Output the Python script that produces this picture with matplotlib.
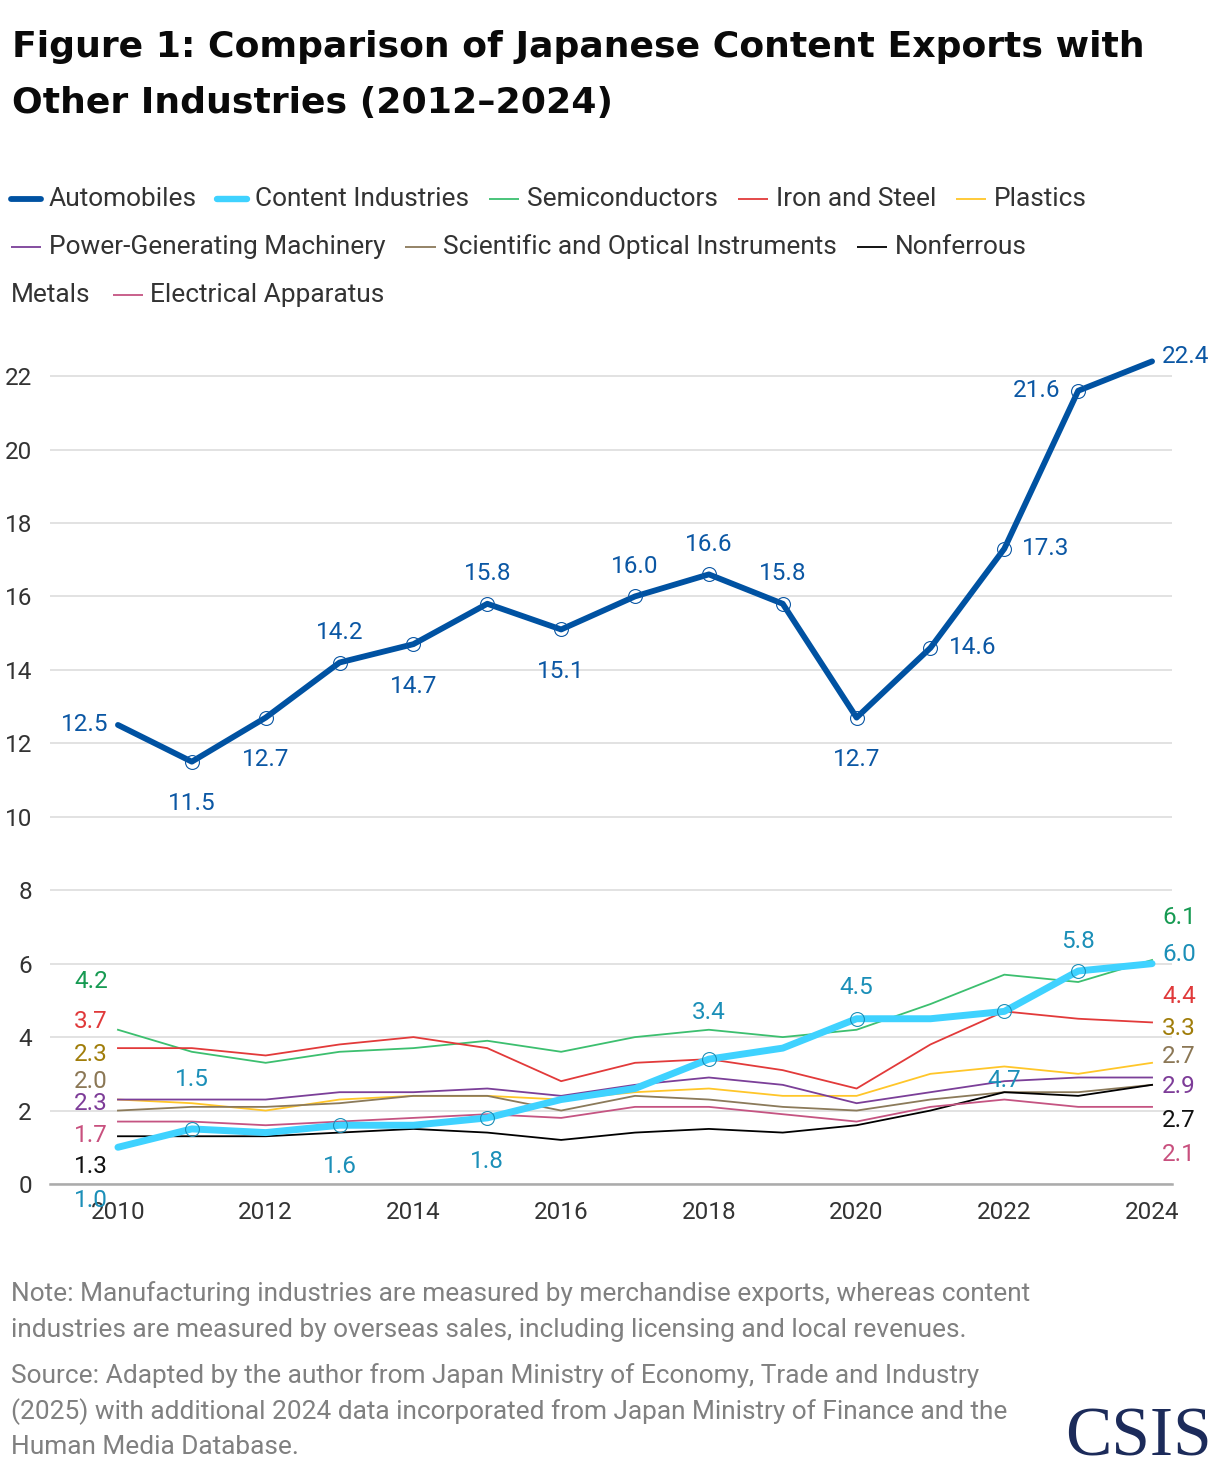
import matplotlib
matplotlib.use("Agg")
import matplotlib.pyplot as plt
from matplotlib.lines import Line2D

plt.rcParams["font.family"] = ["Roboto", "DejaVu Sans"]

years = list(range(2010, 2025))

automobiles = [12.5, 11.5, 12.7, 14.2, 14.7, 15.8, 15.1, 16.0, 16.6, 15.8, 12.7, 14.6, 17.3, 21.6, 22.4]
content = [1.0, 1.5, 1.4, 1.6, 1.6, 1.8, 2.3, 2.6, 3.4, 3.7, 4.5, 4.5, 4.7, 5.8, 6.0]
semiconductors = [4.2, 3.6, 3.3, 3.6, 3.7, 3.9, 3.6, 4.0, 4.2, 4.0, 4.2, 4.9, 5.7, 5.5, 6.1]
iron_steel = [3.7, 3.7, 3.5, 3.8, 4.0, 3.7, 2.8, 3.3, 3.4, 3.1, 2.6, 3.8, 4.7, 4.5, 4.4]
plastics = [2.3, 2.2, 2.0, 2.3, 2.4, 2.4, 2.3, 2.5, 2.6, 2.4, 2.4, 3.0, 3.2, 3.0, 3.3]
power_machinery = [2.3, 2.3, 2.3, 2.5, 2.5, 2.6, 2.4, 2.7, 2.9, 2.7, 2.2, 2.5, 2.8, 2.9, 2.9]
scientific = [2.0, 2.1, 2.1, 2.2, 2.4, 2.4, 2.0, 2.4, 2.3, 2.1, 2.0, 2.3, 2.5, 2.5, 2.7]
nonferrous = [1.3, 1.3, 1.3, 1.4, 1.5, 1.4, 1.2, 1.4, 1.5, 1.4, 1.6, 2.0, 2.5, 2.4, 2.7]
electrical = [1.7, 1.7, 1.6, 1.7, 1.8, 1.9, 1.8, 2.1, 2.1, 1.9, 1.7, 2.1, 2.3, 2.1, 2.1]

W, H = 1220, 1472
fig = plt.figure(figsize=(W / 100, H / 100), dpi=100)
ax = fig.add_axes([50 / W, 1 - 1184 / H, (1172 - 50) / W, (1184 - 332) / H])

# name, values, line colour, label colour, line width, zorder
series = [
    ("Semiconductors", semiconductors, "#3cbf6f", "#169a52", 1.3, 3),
    ("Iron and Steel", iron_steel, "#e23a3a", "#e0393a", 1.3, 3),
    ("Plastics", plastics, "#ffc629", "#a07d0a", 1.3, 3),
    ("Power-Generating Machinery", power_machinery, "#7b3f98", "#7d3c98", 1.3, 3),
    ("Scientific and Optical Instruments", scientific, "#8b7a5a", "#8b7755", 1.3, 3),
    ("Nonferrous Metals", nonferrous, "#000000", "#111111", 1.3, 3),
    ("Electrical Apparatus", electrical, "#c55482", "#c8507e", 1.3, 3),
]
auto_col, auto_lab = "#0052a2", "#0b57a4"
cont_col, cont_lab = "#3fd2ff", "#1b8fb8"

ax.plot(years, automobiles, color=auto_col, lw=4.2, zorder=6, solid_capstyle="round")
ax.plot(years, content, color=cont_col, lw=5.0, zorder=5, solid_capstyle="round")
for name, vals, col, lab, lw, z in series:
    ax.plot(years, vals, color=col, lw=lw, zorder=z)

FS = 17.5

# automobile labels
auto_place = ["L0", "B", "B", "A", "B", "A", "B", "A", "A", "A", "B", "R", "R", "L", "R0"]
place_off = {"L0": (-10, 0, "right"), "L": (-18, 0, "right"), "R": (18, 0, "left"),
             "R0": (10, 5, "left"), "A": (0, 30, "center"), "B": (0, -42, "center")}
for i, (yr, v) in enumerate(zip(years, automobiles)):
    dx, dy, ha = place_off[auto_place[i]]
    ax.annotate(f"{v:.1f}", (yr, v), xytext=(dx, dy), textcoords="offset pixels",
                ha=ha, va="center", fontsize=FS, color=auto_lab, zorder=8)
    if 0 < i < len(years) - 1:
        ax.plot(yr, v, "o", mfc="none", mec=auto_lab, ms=10, mew=0.8, zorder=7)

# content industry labels (middle points)
content_dy = {2011: 49, 2013: -41, 2015: -44, 2018: 47, 2020: 31, 2022: -69, 2023: 30}
for yr, v in zip(years, content):
    if yr in content_dy:
        ax.annotate(f"{v:.1f}", (yr, v), xytext=(0, content_dy[yr]), textcoords="offset pixels",
                    ha="center", va="center", fontsize=FS, color=cont_lab, zorder=8)
        ax.plot(yr, v, "o", mfc="none", mec=cont_lab, ms=10, mew=0.8, zorder=7)

# end labels for the smaller series
left_dy = {"Semiconductors": 48, "Iron and Steel": 27, "Plastics": 45,
           "Scientific and Optical Instruments": 29, "Power-Generating Machinery": -4,
           "Electrical Apparatus": -14, "Nonferrous Metals": -30, "Content Industries": -53}
right_dy = {"Semiconductors": 42, "Content Industries": 9, "Iron and Steel": 26, "Plastics": 34,
            "Scientific and Optical Instruments": 28, "Power-Generating Machinery": -9,
            "Nonferrous Metals": -36, "Electrical Apparatus": -48}
end_series = [(n, v, lab) for n, v, c, lab, lw, z in series] + [("Content Industries", content, cont_lab)]
for name, vals, lab in end_series:
    ax.annotate(f"{vals[0]:.1f}", (years[0], vals[0]), xytext=(-10, left_dy[name]),
                textcoords="offset pixels", ha="right", va="center", fontsize=FS, color=lab, zorder=8)
    ax.annotate(f"{vals[-1]:.1f}", (years[-1], vals[-1]), xytext=(10, right_dy[name]),
                textcoords="offset pixels", ha="left", va="center", fontsize=FS, color=lab, zorder=8)

ax.set_xlim(2009.08, 2024.27)
ax.set_ylim(0, 23.2)
ax.set_yticks(range(0, 23, 2))
ax.set_xticks(range(2010, 2025, 2))
ax.grid(axis="y", color="#e2e2e2", lw=1.4)
ax.set_axisbelow(True)
for s in ["top", "right", "left"]:
    ax.spines[s].set_visible(False)
ax.spines["bottom"].set_color("#ababab")
ax.spines["bottom"].set_linewidth(1.8)
ax.tick_params(axis="both", length=0, labelsize=FS, labelcolor="#333333")
ax.tick_params(axis="y", pad=13)
ax.tick_params(axis="x", pad=12)

# title
title_font = dict(fontsize=26.1, fontweight="bold", family="DejaVu Sans", color="#0a0a0a", va="baseline")
fig.text(12 / W, 1 - 57 / H, "Figure 1: Comparison of Japanese Content Exports with", **title_font)
fig.text(12 / W, 1 - 113 / H, "Other Industries (2012–2024)", **title_font)

# legend, drawn by hand so it wraps like the original
renderer = fig.canvas.get_renderer()
LFS = 18.9


def leg_text(x, y, label):
    t = fig.text(x / W, 1 - y / H, label, fontsize=LFS, color="#333333", va="center")
    return x + t.get_window_extent(renderer).width


def leg_item(x, y, color, lw, label):
    fig.add_artist(Line2D([x / W, (x + 30) / W], [1 - y / H] * 2, color=color, lw=lw,
                          transform=fig.transFigure, solid_capstyle="round" if lw > 2 else "butt"))
    return leg_text(x + 38, y, label) + 20


rows = [
    [("Automobiles", auto_col, 4.2), ("Content Industries", cont_col, 4.6),
     ("Semiconductors", series[0][2], 1.3), ("Iron and Steel", series[1][2], 1.3),
     ("Plastics", series[2][2], 1.3)],
    [("Power-Generating Machinery", series[3][2], 1.3),
     ("Scientific and Optical Instruments", series[4][2], 1.3),
     ("Nonferrous", series[5][2], 1.3)],
]
x = 11
for lab, col, lw in rows[0]:
    x = leg_item(x, 199, col, lw, lab)
x = 11
for lab, col, lw in rows[1]:
    x = leg_item(x, 247, col, lw, lab)
x = leg_text(11, 295, "Metals") + 22
leg_item(x, 295, series[6][2], 1.3, "Electrical Apparatus")

# notes
note_lines = [
    (1294, "Note: Manufacturing industries are measured by merchandise exports, whereas content"),
    (1330, "industries are measured by overseas sales, including licensing and local revenues."),
    (1376, "Source: Adapted by the author from Japan Ministry of Economy, Trade and Industry"),
    (1412, "(2025) with additional 2024 data incorporated from Japan Ministry of Finance and the"),
    (1447, "Human Media Database."),
]
for yy, line in note_lines:
    fig.text(11 / W, 1 - yy / H, line, fontsize=18.9, color="#808080", va="center")

fig.text(1212 / W, 1 / H, "CSIS", fontsize=50, family="Liberation Serif",
         color="#1c2b5a", ha="right", va="bottom")

fig.savefig("out.png", dpi=100)
